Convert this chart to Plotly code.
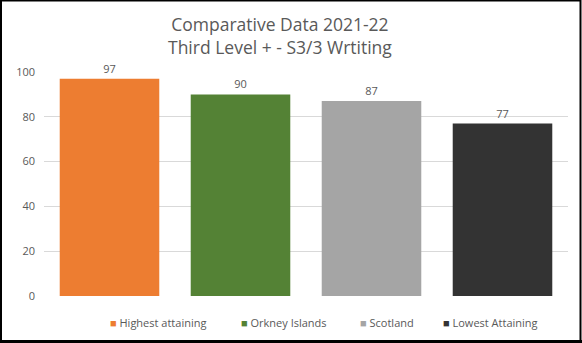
import plotly.graph_objects as go

categories = ["Highest attaining", "Orkney Islands", "Scotland", "Lowest Attaining"]
values = [97, 90, 87, 77]
colors = ["#ED7D31", "#548235", "#A5A5A5", "#333333"]
y_ticks = [0, 20, 40, 60, 80, 100]
title_lines = ["Comparative Data 2021-22", "Third Level + - S3/3 Wrtiting"]

W, H = 582, 343
L, R, T, B = 44, 14, 72, 47
pw, ph = W - L - R, H - T - B
FONT = "Open Sans, Liberation Sans, sans-serif"
GREY = "#595959"

def px_x(p):
    return (p - L) / pw

def px_y(p):
    return (H - B - p) / ph

fig = go.Figure()
for c, v, col in zip(categories, values, colors):
    fig.add_trace(go.Bar(
        x=[c], y=[v], name=c, marker=dict(color=col, line=dict(width=0)),
        width=0.76, text=[str(v)], textposition="outside",
        textfont=dict(color=GREY, size=11, family=FONT), cliponaxis=False,
        showlegend=False,
    ))

annotations = []
# two-line title
annotations.append(dict(text="<br>".join(title_lines), xref="paper", yref="paper",
                        x=px_x(280), y=px_y(36), xanchor="center", yanchor="middle",
                        showarrow=False, font=dict(size=17.5, color=GREY, family=FONT)))
# legend entries
legend_left = [108, 239, 358, 441]
for c, col, xl in zip(categories, colors, legend_left):
    annotations.append(dict(
        text=f"<span style='color:{col}'>■</span> {c}",
        xref="paper", yref="paper", x=px_x(xl), y=px_y(322),
        xanchor="left", yanchor="middle", showarrow=False,
        font=dict(size=11, color=GREY, family=FONT)))

fig.update_layout(
    width=W, height=H,
    margin=dict(l=L, r=R, t=T, b=B),
    paper_bgcolor="white", plot_bgcolor="white",
    barmode="overlay",
    font=dict(family=FONT, color=GREY),
    showlegend=False,
    xaxis=dict(showticklabels=False, showgrid=False, zeroline=False, showline=False),
    yaxis=dict(range=[0, 100], tickvals=y_ticks, showgrid=True, gridcolor="#D9D9D9",
               gridwidth=1, zeroline=False, showline=False,
               tickfont=dict(size=11, color=GREY, family=FONT), ticks="",
               ticklabelstandoff=8),
    annotations=annotations,
    shapes=[
        dict(type="rect", xref="paper", yref="paper",
             x0=px_x(1), x1=px_x(580.5), y0=px_y(341), y1=px_y(0.5),
             line=dict(color="black", width=2), fillcolor="rgba(0,0,0,0)", layer="above"),
        dict(type="line", xref="paper", yref="paper",
             x0=px_x(0), x1=px_x(582), y0=px_y(341.5), y1=px_y(341.5),
             line=dict(color="black", width=3), layer="above"),
    ],
)

fig.write_html("out.html")
